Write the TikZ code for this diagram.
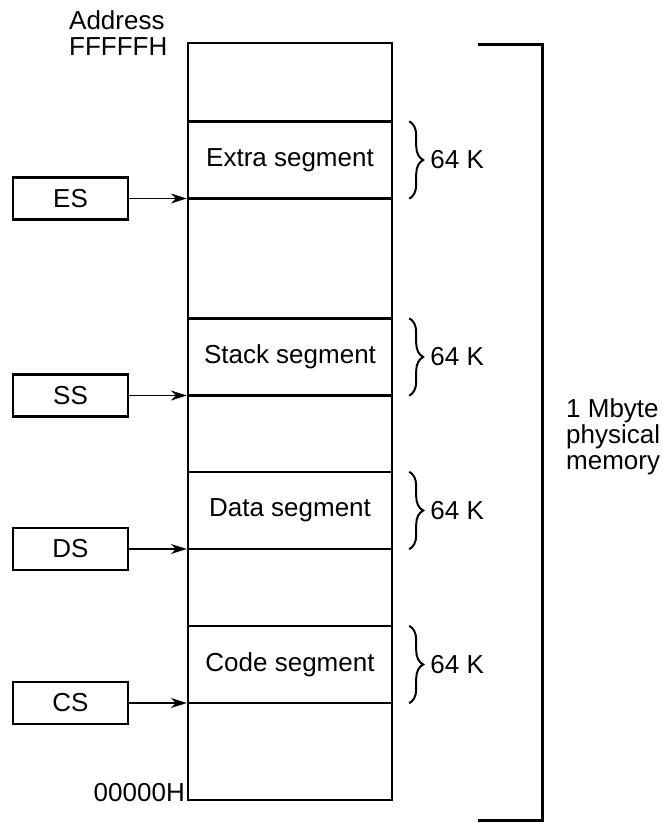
\documentclass[tikz,border=0pt]{standalone}
\usepackage{fontspec}
\setmainfont{Liberation Sans}
\usetikzlibrary{arrows.meta,decorations.pathreplacing}

\begin{document}
\begin{tikzpicture}[x=0.5pt, y=-0.5pt, >={Stealth[length=8pt,width=5pt]}, line width=1.2pt,
    seg/.style={minimum width=102pt, minimum height=38.5pt, inner sep=0pt, font=\fontsize{13pt}{13pt}\selectfont},
    reg/.style={draw, line width=1.1pt, minimum width=57.5pt, minimum height=21pt, inner sep=0pt, font=\fontsize{13pt}{13pt}\selectfont},
    brc/.style={decorate, decoration={brace, amplitude=7pt}, line width=1pt},
    lbl/.style={inner sep=0pt, font=\fontsize{13pt}{13pt}\selectfont}]

    \useasboundingbox (0,0) rectangle (662,823);

    % === 存储器外框 ===
    \coordinate (memtop) at (188,43);
    \coordinate (membot) at (392,800);
    \draw (memtop) rectangle (membot);

    % === 段 ===
    \node[seg, draw] (es) at (290,160) {Extra segment};
    \node[seg, draw] (ss) at (290,357) {Stack segment};
    \node[seg, draw] (ds) at (290,510.5) {Data segment};
    \node[seg, draw] (cs) at (290,664.5) {Code segment};

    % === 段寄存器 ===
    \node[reg] (esreg) at (70.5,198.5) {ES};
    \node[reg] (ssreg) at (70.5,395.5) {SS};
    \node[reg] (dsreg) at (70.5,549) {DS};
    \node[reg] (csreg) at (70.5,703) {CS};

    \draw[->, line width=0.9pt] (esreg.east) -- (esreg.east -| es.south west);
    \draw[->, line width=0.9pt] (ssreg.east) -- (ssreg.east -| ss.south west);
    \draw[->, line width=0.9pt] (dsreg.east) -- (dsreg.east -| ds.south west);
    \draw[->, line width=0.9pt] (csreg.east) -- (csreg.east -| cs.south west);

    % === 64 K 花括号 ===
    \draw[brc] ([xshift=8pt,yshift=-0.5pt]es.north east) -- ([xshift=8pt,yshift=0.5pt]es.south east);
    \draw[brc] ([xshift=8pt,yshift=-0.5pt]ss.north east) -- ([xshift=8pt,yshift=0.5pt]ss.south east);
    \draw[brc] ([xshift=8pt,yshift=-0.5pt]ds.north east) -- ([xshift=8pt,yshift=0.5pt]ds.south east);
    \draw[brc] ([xshift=8pt,yshift=-0.5pt]cs.north east) -- ([xshift=8pt,yshift=0.5pt]cs.south east);

    \node[lbl, anchor=west] (esk) at ([xshift=18pt]es.east) {64 K};
    \node[lbl, anchor=west] (ssk) at ([xshift=18pt]ss.east) {64 K};
    \node[lbl, anchor=west] (dsk) at ([xshift=18pt]ds.east) {64 K};
    \node[lbl, anchor=west] (csk) at ([xshift=18pt]cs.east) {64 K};

    % === 1 Mbyte 方括号 ===
    \coordinate (bra) at (478,45);
    \coordinate (brb) at (542,45);
    \coordinate (brc) at (542,820);
    \coordinate (brd) at (478,820);
    \draw[line width=1.5pt] (bra) -- (brb) -- (brc) -- (brd);

    % === 标注 ===
    \node[lbl, anchor=west, align=left] (mem) at (565,437) {1 Mbyte\\physical\\memory};
    \node[lbl, anchor=west, align=left] (addr) at (68,33) {Address\\FFFFFH};
    \node[lbl, anchor=base east] (zero) at (186,801) {00000H};

\end{tikzpicture}
\end{document}
